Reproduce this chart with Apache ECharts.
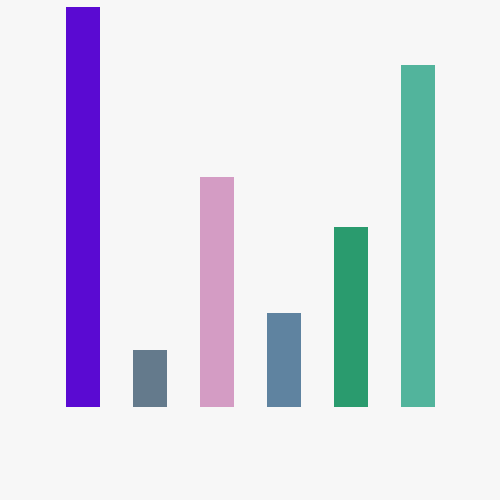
<!DOCTYPE html>
<html><head><meta charset="utf-8">
<script src="https://cdn.jsdelivr.net/npm/echarts@6/dist/echarts.min.js"></script>
<style>html,body{margin:0;padding:0;background:#f7f7f7;}#c{width:500px;height:500px;}</style>
</head><body><div id="c"></div>
<script>
const categories = ['A','B','C','D','E','F'];
const values = [100, 14.25, 57.5, 23.5, 45, 85.5];
const colors = ['#5a0ad2','#647a8c','#d49cc4','#5f83a0','#2a9b6e','#52b49c'];
const chart = echarts.init(document.getElementById('c'));
chart.setOption({
  backgroundColor: '#f7f7f7',
  animation: false,
  grid: {left: 49.5, right: 48.5, top: 7, bottom: 93},
  xAxis: {type: 'category', data: categories, show: false},
  yAxis: {type: 'value', min: 0, max: 100, show: false},
  series: [{
    type: 'bar',
    barWidth: 34,
    data: values.map((v, i) => ({value: v, itemStyle: {color: colors[i]}}))
  }]
});
</script></body></html>
